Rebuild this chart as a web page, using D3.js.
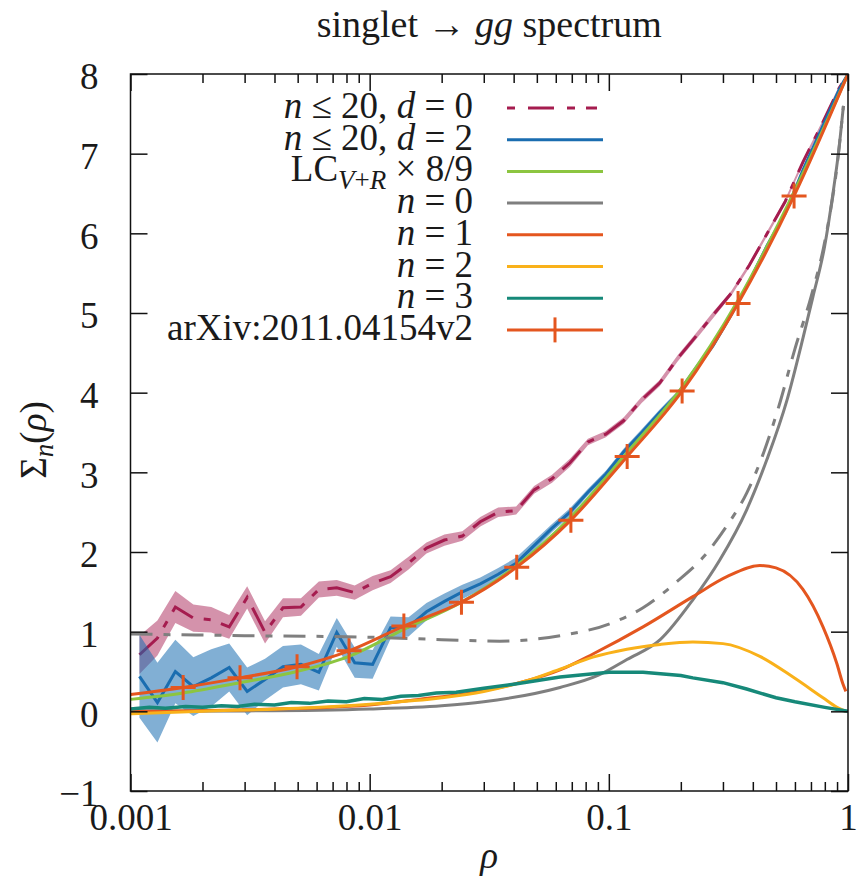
<!DOCTYPE html>
<html><head><meta charset="utf-8">
<script src="https://cdn.jsdelivr.net/npm/d3@7"></script>
<style>
body{margin:0;background:#fff}
svg text{font-family:"Liberation Serif","Times New Roman",Times,serif !important;fill:#1a1a1a}
</style>
</head><body>
<svg id="c" width="859" height="889"></svg>
<script>
// ---------------- data ----------------
const binRho = [0.00109,0.001296,0.00154,0.001831,0.002176,0.002587,0.003075,0.003652,0.00434,0.00516,
  0.006131,0.007286,0.00866,0.01029,0.01223,0.01454,0.01728,0.02054,0.02441,0.02901,
  0.03447,0.04097,0.0487,0.05788,0.06879,0.08175,0.09716,0.1155,0.1372,0.1631,
  0.1939,0.2304,0.2738,0.3255,0.3868,0.4597,0.5464,0.6494,0.7718,0.9173,1.0];
const d0Val = [0.71,0.92,1.31,1.17,1.15,1.06,1.43,0.99,1.30,1.31,
  1.53,1.55,1.49,1.61,1.69,1.86,2.05,2.15,2.20,2.38,
  2.50,2.52,2.78,2.92,3.12,3.38,3.48,3.65,3.91,4.12,
  4.43,4.70,4.98,5.25,5.60,6.00,6.40,6.90,7.35,7.82,8.00];
const d0Err = [0.24,0.22,0.2,0.17,0.16,0.15,0.14,0.14,0.12,0.11,
  0.1,0.1,0.09,0.09,0.08,0.08,0.07,0.07,0.06,0.06,
  0.06,0.05,0.05,0.05,0.05,0.04,0.04,0.04,0.04,0.04,
  0.04,0.04,0.04,0.03,0.03,0.03,0.03,0.03,0.03,0.03,0.03];
const d2Val = [0.44,0.11,0.50,0.31,0.42,0.55,0.25,0.40,0.56,0.59,
  0.49,0.99,0.61,0.59,1.05,1.06,1.25,1.38,1.50,1.60,
  1.72,1.86,2.08,2.30,2.50,2.75,2.98,3.26,3.50,3.75,
  3.98,4.30,4.60,4.98,5.40,5.85,6.25,6.80,7.30,7.80,8.00];
const d2Err = [0.52,0.5,0.4,0.37,0.36,0.3,0.3,0.26,0.26,0.25,
  0.23,0.18,0.19,0.18,0.14,0.12,0.11,0.1,0.09,0.08,
  0.08,0.07,0.06,0.05,0.05,0.04,0.04,0.04,0.04,0.04,
  0.04,0.04,0.04,0.03,0.03,0.03,0.03,0.03,0.03,0.03,0.03];

const refRho = [0.001,0.00166,0.00287,0.00497,0.0082,0.0139,0.0242,0.0412,0.0694,0.1193,0.2025,0.347,0.595,1.0];
const arxVal = [0.21,0.30,0.42,0.56,0.76,1.07,1.37,1.81,2.40,3.20,4.02,5.12,6.47,8.0];
const lcVal  = [0.15,0.23,0.36,0.50,0.69,1.03,1.37,1.83,2.44,3.25,4.07,5.16,6.52,8.0];

const n0Rho = [0.001,0.003,0.01,0.02,0.03,0.0625,0.09,0.119,0.164,0.2245,0.291,0.377,0.458,0.555,0.65,0.713,0.8,0.865,0.92,0.957];
const n0Val = [0.0,0.005,0.03,0.07,0.12,0.30,0.45,0.65,0.90,1.40,1.90,2.53,3.16,3.90,4.70,5.20,5.85,6.50,7.10,7.60];
const n0dRho = [0.001,0.003,0.01,0.02,0.035,0.0625,0.101,0.139,0.193,0.249,0.31,0.377,0.438,0.514,0.6,0.7,0.8,0.9,0.957];
const n0dVal = [0.97,0.95,0.93,0.90,0.88,0.95,1.10,1.30,1.63,1.94,2.32,2.74,3.20,3.83,4.55,5.20,5.90,6.85,7.60];
const n1Rho = [0.001,0.003,0.01,0.016,0.03,0.045,0.0625,0.0858,0.139,0.2246,0.3116,0.428,0.5,0.648,0.786,0.898,0.951,0.98];
const n1Val = [0.0,0.02,0.08,0.15,0.26,0.38,0.52,0.72,1.06,1.44,1.69,1.83,1.80,1.53,1.06,0.60,0.35,0.25];
const n2Rho = [0.001,0.002,0.005,0.01,0.02,0.03,0.045,0.0625,0.0858,0.119,0.164,0.2246,0.3,0.428,0.589,0.786,0.9,0.98];
const n2Val = [-0.03,0.0,0.04,0.09,0.17,0.25,0.38,0.53,0.68,0.78,0.84,0.87,0.85,0.69,0.43,0.17,0.05,0.0];
const n3Rho = [0.001,0.0012,0.0014,0.0017,0.002,0.0024,0.0028,0.0033,0.004,0.0047,0.0056,0.0067,0.008,0.0095,0.0113,0.0135,0.016,0.019,0.023,0.03,0.04,0.0625,0.1,0.139,0.2,0.2246,0.3,0.377,0.5,0.6,0.8,1.0];
const n3Val = [0.03,0.05,0.04,0.06,0.05,0.07,0.06,0.09,0.08,0.11,0.10,0.13,0.12,0.16,0.15,0.19,0.20,0.23,0.24,0.29,0.34,0.43,0.49,0.49,0.45,0.42,0.36,0.28,0.17,0.12,0.05,0.0];

const xMajor = [0.001,0.01,0.1,1];
const xMajorLabels = ["0.001","0.01","0.1","1"];
const yTicks = [-1,0,1,2,3,4,5,6,7,8];

const legendLabels = ["n ≤ 20, d = 0","n ≤ 20, d = 2","LC_{V+R} × 8/9","n = 0","n = 1","n = 2","n = 3","arXiv:2011.04154v2"];
const colors = {d0:"#a51c4f", d2:"#1a6db0", lc:"#8cc540", n0:"#7f7f7f", n1:"#e4561f", n2:"#f9b11a", n3:"#168979", arx:"#e4561f"};

// ---------------- layout ----------------
const FONT = '"Liberation Serif","Times New Roman",Times,serif';
const L=130.5, R=848, T=74, B=791;
const x = d3.scaleLog().domain([0.001,1]).range([L,R]);
const y = d3.scaleLinear().domain([-1,8]).range([B,T]);
const svg = d3.select("#c").style("font-family",FONT);
svg.append("defs").append("clipPath").attr("id","clip")
  .append("rect").attr("x",L).attr("y",T).attr("width",R-L).attr("height",B-T);
const g = svg.append("g").attr("clip-path","url(#clip)");

const zip = (xs,ys)=>xs.map((r,i)=>[r,ys[i]]);
const line = d3.line().x(d=>x(d[0])).y(d=>y(d[1]));
const sline = d3.line().x(d=>x(d[0])).y(d=>y(d[1])).curve(d3.curveMonotoneX);
const area = d3.area().x(d=>x(d[0])).y0(d=>y(d[1]-d[2])).y1(d=>y(d[1]+d[2]));

const d0 = binRho.map((r,i)=>[r,d0Val[i],d0Err[i]]);
const d2 = binRho.map((r,i)=>[r,d2Val[i],d2Err[i]]);
const SW=3;
const dashD0 = "26,11,7,11";

g.append("path").attr("d",area(d0)).attr("fill",colors.d0).attr("fill-opacity",0.48);
g.append("path").attr("d",line(d0)).attr("fill","none").attr("stroke",colors.d0).attr("stroke-width",SW).attr("stroke-dasharray",dashD0);
g.append("path").attr("d",area(d2)).attr("fill",colors.d2).attr("fill-opacity",0.55);
g.append("path").attr("d",line(d2)).attr("fill","none").attr("stroke",colors.d2).attr("stroke-width",SW);
g.append("path").attr("d",sline(zip(refRho,lcVal))).attr("fill","none").attr("stroke",colors.lc).attr("stroke-width",SW);
g.append("path").attr("d",sline(zip(n0Rho,n0Val))).attr("fill","none").attr("stroke",colors.n0).attr("stroke-width",SW);
g.append("path").attr("d",sline(zip(n0dRho,n0dVal))).attr("fill","none").attr("stroke",colors.n0).attr("stroke-width",SW).attr("stroke-dasharray","22,11,7,11");
g.append("path").attr("d",sline(zip(n1Rho,n1Val))).attr("fill","none").attr("stroke",colors.n1).attr("stroke-width",SW);
g.append("path").attr("d",sline(zip(n2Rho,n2Val))).attr("fill","none").attr("stroke",colors.n2).attr("stroke-width",SW);
g.append("path").attr("d",line(zip(n3Rho,n3Val))).attr("fill","none").attr("stroke",colors.n3).attr("stroke-width",SW+0.5);
g.append("path").attr("d",sline(zip(refRho,arxVal))).attr("fill","none").attr("stroke",colors.arx).attr("stroke-width",SW);
const MK=12.5;
const marks = zip(refRho,arxVal).slice(1,-1);
g.selectAll(".mk").data(marks).enter().append("path")
  .attr("d",d=>`M${x(d[0])-MK},${y(d[1])}H${x(d[0])+MK}M${x(d[0])},${y(d[1])-MK}V${y(d[1])+MK}`)
  .attr("stroke",colors.arx).attr("stroke-width",SW).attr("fill","none");

// ---------------- axes ----------------
const xMinor = [];
[0.001,0.01,0.1].forEach(b=>{for(let k=2;k<=9;k++) xMinor.push(b*k);});
const FS = 37;
function styleAxis(sel){
  sel.attr("font-family",null).attr("font-size",null);
  sel.select(".domain").remove();
  sel.selectAll("line").attr("stroke","#111").attr("stroke-width",1.5);
  sel.selectAll("text").style("font-family",FONT).style("font-size",FS+"px");
}
svg.append("g").attr("transform",`translate(0,${B})`)
  .call(d3.axisBottom(x).tickValues(xMajor).tickFormat((d,i)=>xMajorLabels[i]).tickSize(-17).tickPadding(13))
  .call(styleAxis);
svg.append("g").attr("transform",`translate(0,${B})`)
  .call(d3.axisBottom(x).tickValues(xMinor).tickFormat("").tickSize(-9)).call(styleAxis);
svg.append("g").attr("transform",`translate(0,${T})`)
  .call(d3.axisTop(x).tickValues(xMajor).tickFormat("").tickSize(-17)).call(styleAxis);
svg.append("g").attr("transform",`translate(0,${T})`)
  .call(d3.axisTop(x).tickValues(xMinor).tickFormat("").tickSize(-9)).call(styleAxis);
svg.append("g").attr("transform",`translate(${L},0)`)
  .call(d3.axisLeft(y).tickValues(yTicks).tickFormat(d=>d<0?"−"+Math.abs(d):String(d)).tickSize(-17).tickPadding(32))
  .call(styleAxis).call(s=>s.selectAll("text").attr("dy","0.4em"));
svg.append("g").attr("transform",`translate(${R},0)`)
  .call(d3.axisRight(y).tickValues(yTicks).tickFormat("").tickSize(-17)).call(styleAxis);
svg.append("rect").attr("x",L).attr("y",T).attr("width",R-L).attr("height",B-T)
  .attr("fill","none").attr("stroke","#111").attr("stroke-width",1.5);

// ---------------- titles ----------------
const title = svg.append("text").attr("x",(L+R)/2).attr("y",37).attr("text-anchor","middle").style("font-size","38px");
title.append("tspan").text("singlet → ");
title.append("tspan").attr("font-style","italic").text("gg");
title.append("tspan").text(" spectrum");

const yl = svg.append("text").attr("transform","translate(46,440) rotate(-90)").attr("text-anchor","middle").style("font-size",FS+"px");
yl.append("tspan").text("Σ");
yl.append("tspan").attr("font-style","italic").style("font-size","27px").attr("dy",7).text("n");
yl.append("tspan").attr("dy",-7).text("(");
yl.append("tspan").attr("font-style","italic").text("ρ");
yl.append("tspan").text(")");

svg.append("text").attr("x",(L+R)/2).attr("y",868).attr("text-anchor","middle").style("font-size",FS+"px").attr("font-style","italic").text("ρ");

// ---------------- legend ----------------
const LX=473, LS0=507, LS1=603, LY0=108, LDY=31.7;
const keys=["d0","d2","lc","n0","n1","n2","n3","arx"];
const leg = svg.append("g");
function addLabel(t, i){
  const tx = leg.append("text").attr("x",LX).attr("y",LY0+i*LDY+10).attr("text-anchor","end").style("font-size",FS+"px");
  const m = t.match(/^LC_\{(.*)\}(.*)$/);
  if(m){
    tx.append("tspan").text("LC");
    const sub = m[1];
    tx.append("tspan").attr("dy",8).style("font-size","27px").attr("font-style","italic").text(sub[0]);
    tx.append("tspan").style("font-size","27px").text(sub[1]);
    tx.append("tspan").style("font-size","27px").attr("font-style","italic").text(sub[2]);
    tx.append("tspan").attr("dy",-8).text(m[2]);
    return;
  }
  if(t.startsWith("arXiv")){ tx.text(t); return; }
  t.split(/([nd])/).forEach(p=>{ if(!p) return;
    const ts = tx.append("tspan").text(p);
    if(p==="n"||p==="d") ts.attr("font-style","italic");
  });
}
legendLabels.forEach((t,i)=>{
  addLabel(t,i);
  const ly = LY0+i*LDY;
  const ln = leg.append("line").attr("x1",LS0).attr("x2",LS1).attr("y1",ly).attr("y2",ly)
    .attr("stroke",colors[keys[i]]).attr("stroke-width",SW);
  if(keys[i]==="d0") ln.attr("stroke-dasharray","8,13,26,13,8,11,11");
  if(keys[i]==="arx"){
    const cx=(LS0+LS1)/2;
    leg.append("path").attr("d",`M${cx},${ly-MK}V${ly+MK}`).attr("stroke",colors.arx).attr("stroke-width",SW);
  }
});
</script>
</body></html>
